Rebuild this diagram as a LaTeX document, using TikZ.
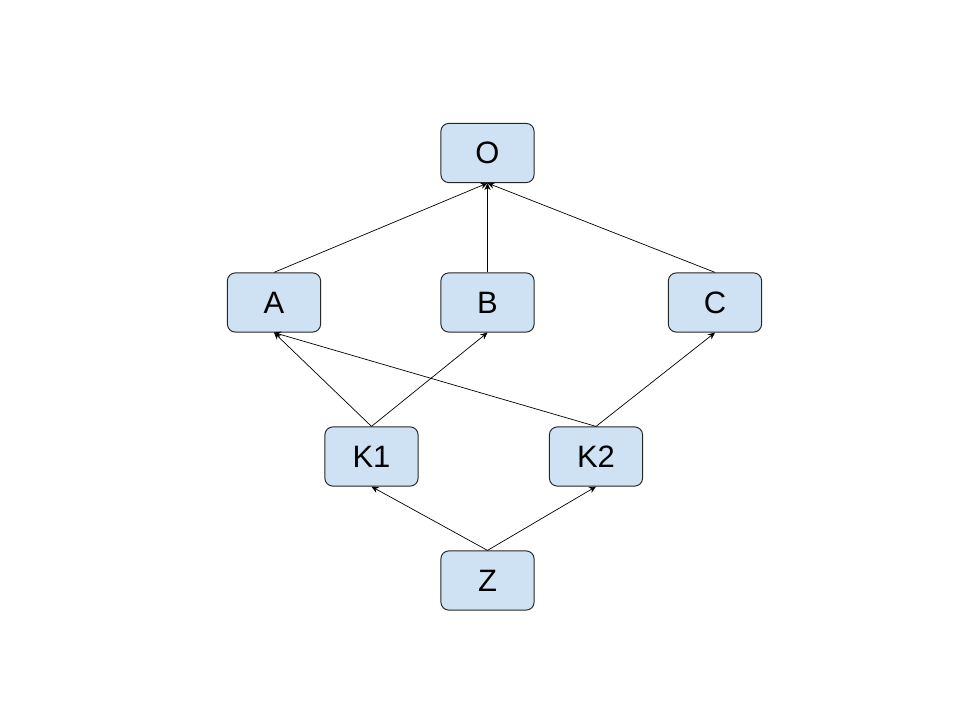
\documentclass[tikz,border=0pt]{standalone}
\usepackage{fontspec}
\setmainfont{Liberation Sans}
\usepackage{xcolor}
\usetikzlibrary{arrows.meta}
\definecolor{cajaazul}{HTML}{CFE2F3}

\tikzset{
  caja/.style={draw=black!85, line width=0.7pt, fill=cajaazul, rounded corners=0.2cm,
    minimum width=2.33cm, minimum height=1.48cm, inner sep=0pt,
    font=\fontsize{22}{26}\selectfont},
  flecha/.style={-{Stealth[length=5pt,width=4.5pt]}, line width=0.5pt}
}

\begin{document}
\begin{tikzpicture}[x=0.025cm, y=-0.025cm]
    % Marco del dibujo
    \useasboundingbox (0,0) rectangle (960,720);

    % Nivel superior
    \node[caja] (O) at (487.5,153) {O};

    % Nivel intermedio
    \node[caja] (A) at (274,302.5) {A};
    \node[caja] (B) at (487.5,302.5) {B};
    \node[caja] (C) at (715,302.5) {C};

    % Nivel de las K
    \node[caja] (K1) at (371.5,456.5) {K1};
    \node[caja] (K2) at (596,456.5) {K2};

    % Nivel inferior
    \node[caja] (Z) at (487.5,580.5) {Z};

    % Flechas hacia O
    \draw[flecha] (A.north) -- (O.south);
    \draw[flecha] (B.north) -- (O.south);
    \draw[flecha] (C.north) -- (O.south);

    % Flechas desde K1 y K2
    \draw[flecha] (K1.north) -- (A.south);
    \draw[flecha] (K1.north) -- (B.south);
    \draw[flecha] (K2.north) -- (A.south);
    \draw[flecha] (K2.north) -- (C.south);

    % Flechas desde Z
    \draw[flecha] (Z.north) -- (K1.south);
    \draw[flecha] (Z.north) -- (K2.south);

\end{tikzpicture}
\end{document}
